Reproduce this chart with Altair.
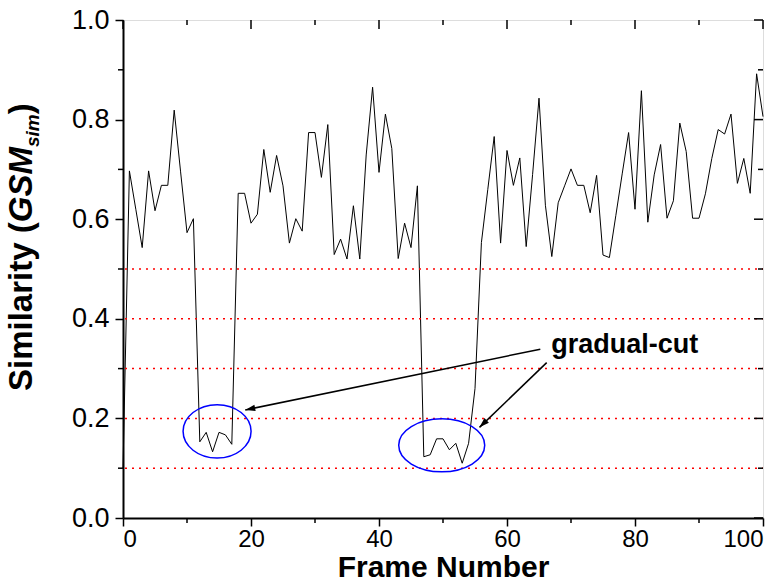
import math
import altair as alt
import pandas as pd

# ---------------- data ----------------
frames = list(range(101))
similarity = [
    0.10, 0.697, 0.62, 0.543, 0.697, 0.617, 0.668, 0.668, 0.819, 0.695,
    0.573, 0.601, 0.153, 0.172, 0.133, 0.172, 0.167, 0.148, 0.652, 0.652,
    0.592, 0.610, 0.740, 0.654, 0.728, 0.667, 0.552, 0.601, 0.576, 0.774,
    0.774, 0.684, 0.790, 0.529, 0.560, 0.520, 0.627, 0.520, 0.729, 0.865,
    0.694, 0.811, 0.742, 0.521, 0.592, 0.543, 0.667, 0.123, 0.127, 0.159,
    0.159, 0.137, 0.150, 0.110, 0.150, 0.26, 0.553, 0.66, 0.766, 0.552,
    0.738, 0.668, 0.723, 0.545, 0.69, 0.843, 0.628, 0.525, 0.633, 0.667,
    0.701, 0.668, 0.668, 0.613, 0.688, 0.528, 0.523, 0.607, 0.691, 0.774,
    0.620, 0.858, 0.594, 0.689, 0.750, 0.602, 0.637, 0.793, 0.736, 0.602,
    0.602, 0.651, 0.722, 0.780, 0.771, 0.811, 0.672, 0.722, 0.652, 0.892,
    0.806,
]
thresholds = [0.1, 0.2, 0.3, 0.4, 0.5]
x_major = [0, 20, 40, 60, 80, 100]
x_minor = [10, 30, 50, 70, 90]
y_major = [0.0, 0.2, 0.4, 0.6, 0.8, 1.0]
y_minor = [0.1, 0.3, 0.5, 0.7, 0.9]

# annotation: ellipse centres (data units)
ell_x = [14.7, 49.8]
ell_y = [0.174, 0.146]
# arrows: start -> tip (data units)
arr_x1 = [65.2, 66.2]
arr_y1 = [0.339, 0.312]
arr_x2 = [19.1, 55.7]
arr_y2 = [0.217, 0.182]
label_text = "gradual-cut"
label_x = [78.4]
label_y = [0.331]

# ---------------- layout ----------------
W, H = 640, 498
PX = W / 100.0
PY = H / 1.0
FONT = "'Liberation Sans', Arial, sans-serif"

xs = alt.Scale(domain=[0, 100], nice=False, zero=False)
ys = alt.Scale(domain=[0, 1], nice=False, zero=False)

X_AXIS = alt.Axis(values=x_major, title="Frame Number", format="d", grid=False,
                  tickSize=8, tickWidth=1.5, tickColor="black",
                  domainColor="black", domainWidth=2,
                  labelFont=FONT, labelFontSize=24, labelColor="black",
                  labelPadding=1, titleFont=FONT, titleFontSize=30,
                  titleFontWeight="bold", titleColor="black", titlePadding=1)
Y_AXIS = alt.Axis(values=y_major, title=None, format=".1f", grid=False,
                  tickSize=8, tickWidth=1.5, tickColor="black",
                  domainColor="black", domainWidth=2,
                  labelFont=FONT, labelFontSize=27, labelColor="black",
                  labelPadding=6)


def X(field):
    return alt.X(field, type="quantitative", scale=xs, axis=X_AXIS)


def Y(field):
    return alt.Y(field, type="quantitative", scale=ys, axis=Y_AXIS)


line_df = pd.DataFrame({"frame": frames, "sim": similarity})
line = alt.Chart(line_df).mark_line(color="black", strokeWidth=1).encode(
    x=X("frame"), y=Y("sim"),
)

thr = alt.Chart(pd.DataFrame({"t": thresholds})).mark_rule(
    color="#ff0000", strokeWidth=1.5, strokeDash=[2, 5]
).encode(y=Y("t"), x=alt.value(2), x2=alt.value(W))


def ticks(vals, orient, length):
    df = pd.DataFrame({"v": vals})
    c = alt.Chart(df).mark_rule(color="black", strokeWidth=1.5)
    if orient == "left":
        return c.encode(y=Y("v"), x=alt.value(-length), x2=alt.value(0))
    if orient == "right":
        return c.encode(y=Y("v"), x=alt.value(W - length), x2=alt.value(W))
    if orient == "bottom":
        return c.encode(x=X("v"), y=alt.value(H), y2=alt.value(H + length))
    return c.encode(x=X("v"), y=alt.value(0), y2=alt.value(length))


tick_layers = [
    ticks(y_minor, "left", 5), ticks(x_minor, "bottom", 5),
    ticks(y_major, "right", 9), ticks(y_minor, "right", 5),
    ticks(x_major, "top", 9), ticks(x_minor, "top", 5),
]

# ellipses as custom symbols
ell_layers = []
for cx, cy, rx, ratio in [(ell_x[0], ell_y[0], 34, 0.785), (ell_x[1], ell_y[1], 43, 0.616)]:
    path = f"M -1 0 A 1 {ratio} 0 1 1 1 0 A 1 {ratio} 0 1 1 -1 0 Z"
    ell_layers.append(
        alt.Chart(pd.DataFrame({"x": [cx], "y": [cy]})).mark_point(
            shape=path, size=(2 * rx) ** 2, filled=False, stroke="#0000ff",
            strokeWidth=1.5, opacity=1
        ).encode(x=X("x"), y=Y("y"))
    )

arr_df = pd.DataFrame({"x1": arr_x1, "y1": arr_y1, "x2": arr_x2, "y2": arr_y2})
arrows = alt.Chart(arr_df).mark_rule(color="black", strokeWidth=1.5).encode(
    x=X("x1"), y=Y("y1"), x2="x2:Q", y2="y2:Q",
)
head_layers = []
for x1, y1, x2, y2 in zip(arr_x1, arr_y1, arr_x2, arr_y2):
    dx = (x2 - x1) * PX
    dy = -(y2 - y1) * PY
    ang = math.degrees(math.atan2(dx, -dy)) % 360
    head_layers.append(
        alt.Chart(pd.DataFrame({"x": [x2], "y": [y2]})).mark_point(
            shape="M 0 0 L 0.32 1 L -0.32 1 Z", size=400, filled=True,
            color="black", opacity=1, angle=ang
        ).encode(x=X("x"), y=Y("y"))
    )

label = alt.Chart(pd.DataFrame({"x": label_x, "y": label_y})).mark_text(
    text=label_text, font=FONT, fontSize=27, fontWeight="bold", color="black",
    align="center", baseline="alphabetic"
).encode(x=X("x"), y=Y("y"))

# y-axis title composed of styled parts (rotated)
S = 33
sub = 19
base_x = -91
y0 = 371
parts = [
    ("Similarity (", S, "normal", 0, 5.113 * S),
    ("GSM", S, "italic", 0, 2.278 * S),
    ("sim", sub, "italic", 7, 1.723 * sub),
    (")", S, "normal", 0, 0.333 * S),
]
one = pd.DataFrame({"a": [0]})
title_layers = []
ypos = y0
for txt, size, style, shift, length in parts:
    title_layers.append(
        alt.Chart(one).mark_text(
            text=txt, font=FONT, fontSize=size, fontWeight="bold", fontStyle=style,
            angle=270, align="left", baseline="alphabetic", color="black"
        ).encode(x=alt.value(base_x + shift), y=alt.value(ypos))
    )
    ypos -= length

chart = alt.layer(
    line, thr, *tick_layers, *ell_layers, arrows, *head_layers, label, *title_layers
).properties(
    width=W, height=H,
    autosize=alt.AutoSizeParams(type="none"),
    padding={"left": 123, "top": 20, "right": 19, "bottom": 68},
).configure_view(stroke="black", strokeWidth=1.5).configure(background="white")

chart.save("out.html", embed_options={"renderer": "svg", "actions": False})
